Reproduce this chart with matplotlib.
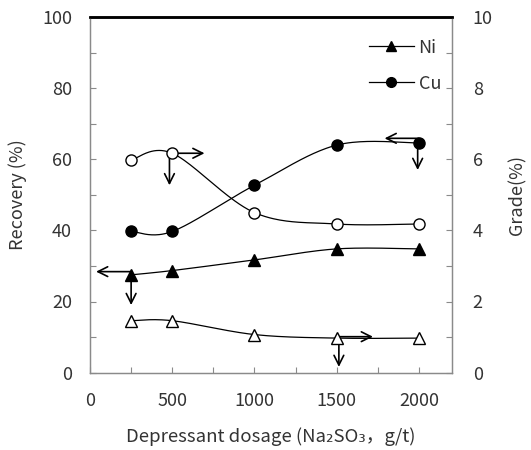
import numpy as np
import matplotlib
matplotlib.use('Agg')
import matplotlib.pyplot as plt
from matplotlib.lines import Line2D

plt.rcParams['font.family'] = ['Noto Sans CJK KR', 'DejaVu Sans']

# ---- data ----
dosage = [250, 500, 1000, 1500, 2000]
ni_recovery = [27.5, 28.7, 31.7, 34.8, 34.8]
cu_recovery = [39.7, 39.7, 52.7, 64.0, 64.6]
cu_grade = [5.98, 6.17, 4.50, 4.18, 4.18]
ni_grade = [1.46, 1.46, 1.07, 0.97, 0.97]

x_ticks = [0, 500, 1000, 1500, 2000]
left_ticks = [0, 20, 40, 60, 80, 100]
right_ticks = [0, 2, 4, 6, 8, 10]

# annotation arrows (x0, y0, x1, y1) in recovery-axis units
arrows = [
    (493, 61.7, 696, 61.7),
    (483, 61.7, 483, 52.7),
    (2000, 65.9, 1791, 65.9),
    (1992, 64.9, 1992, 57.0),
    (250, 28.4, 37, 28.4),
    (250, 27.4, 250, 19.0),
    (1500, 10.1, 1720, 10.1),
    (1513, 9.6, 1513, 1.6),
]


def smooth(x, y, n=40):
    p = np.column_stack([x, y]).astype(float)
    pp = np.vstack([p[0], p, p[-1]])
    out = []
    for i in range(len(p) - 1):
        p0, p1, p2, p3 = pp[i], pp[i + 1], pp[i + 2], pp[i + 3]
        c1 = p1 + (p2 - p0) / 6.0
        c2 = p2 - (p3 - p1) / 6.0
        t = np.linspace(0, 1, n)[:, None]
        seg = ((1 - t) ** 3) * p1 + 3 * ((1 - t) ** 2) * t * c1 + 3 * (1 - t) * t ** 2 * c2 + t ** 3 * p2
        out.append(seg if i == 0 else seg[1:])
    s = np.vstack(out)
    return s[:, 0], s[:, 1]


fig = plt.figure(figsize=(5.31, 4.5), dpi=100)
ax = fig.add_axes([0.1695, 0.172, 0.6815, 0.790])
ax2 = ax.twinx()

lw = 0.9
ms = 8
fs = 13
txt = '#333333'
spc = '#8a8a8a'

# recovery (left axis)
sx, sy = smooth(dosage, ni_recovery)
ax.plot(sx, sy, color='black', lw=lw, zorder=2)
ax.plot(dosage, ni_recovery, ls='none', marker='^', ms=ms, mfc='black', mec='black', zorder=3)
sx, sy = smooth(dosage, cu_recovery)
ax.plot(sx, sy, color='black', lw=lw, zorder=2)
ax.plot(dosage, cu_recovery, ls='none', marker='o', ms=ms, mfc='black', mec='black', zorder=3)

# grade (right axis)
sx, sy = smooth(dosage, cu_grade)
ax2.plot(sx, sy, color='black', lw=lw, zorder=2)
ax2.plot(dosage, cu_grade, ls='none', marker='o', ms=ms, mfc='white', mec='black', mew=1.0, zorder=3)
sx, sy = smooth(dosage, ni_grade)
ax2.plot(sx, sy, color='black', lw=lw, zorder=2)
ax2.plot(dosage, ni_grade, ls='none', marker='^', ms=ms, mfc='white', mec='black', mew=1.0, zorder=3)

for (x0, y0, x1, y1) in arrows:
    ax.annotate('', xy=(x1, y1), xytext=(x0, y0),
                arrowprops=dict(arrowstyle='->,head_length=0.7,head_width=0.35',
                                color='black', lw=1.2, shrinkA=0, shrinkB=0),
                zorder=4)

ax.set_xlim(0, 2200)
ax.set_ylim(0, 100)
ax2.set_ylim(0, 10)

ax.set_xticks(np.arange(0, 2201, 250), minor=True)
ax.set_xticks(x_ticks)
ax.set_xticklabels([str(v) for v in x_ticks])
ax.set_yticks(np.arange(0, 101, 10), minor=True)
ax.set_yticks(left_ticks)
ax.set_yticklabels([str(v) for v in left_ticks])
ax2.set_yticks(np.arange(0, 11, 1), minor=True)
ax2.set_yticks(right_ticks)
ax2.set_yticklabels([str(v) for v in right_ticks])

for a in (ax, ax2):
    a.tick_params(which='both', direction='in', length=4, width=0.8, color=spc,
                  labelsize=fs, labelcolor=txt)
ax.tick_params(axis='x', pad=14)
ax.tick_params(axis='y', pad=13)
ax2.tick_params(axis='y', pad=15)

for a in (ax, ax2):
    for s in ('left', 'right', 'bottom'):
        a.spines[s].set_color(spc)
        a.spines[s].set_linewidth(0.9)
    a.spines['top'].set_color('black')
    a.spines['top'].set_linewidth(1.8)

ax.set_xlabel('Depressant dosage (Na\u2082SO\u2083\uff0cg/t)', fontsize=13.4, color=txt)
ax.xaxis.set_label_coords(0.5, -0.155)
ax.set_ylabel('Recovery (%)', fontsize=fs, color=txt)
ax.yaxis.set_label_coords(-0.175, 0.5)
ax2.set_ylabel('Grade(%)', fontsize=fs, color=txt, rotation=90)
ax2.yaxis.set_label_coords(1.155, 0.5)

handles = [
    Line2D([], [], color='black', lw=lw, marker='^', ms=ms - 1, mfc='black', mec='black'),
    Line2D([], [], color='black', lw=lw, marker='o', ms=ms - 1, mfc='black', mec='black'),
]
leg = ax.legend(handles, ['Ni', 'Cu'], loc='upper right', bbox_to_anchor=(1.015, 0.985),
                frameon=False, fontsize=fs, handlelength=2.5, handletextpad=0.25,
                labelspacing=1.0)
for t in leg.get_texts():
    t.set_color(txt)

fig.savefig('out.png', dpi=100)
